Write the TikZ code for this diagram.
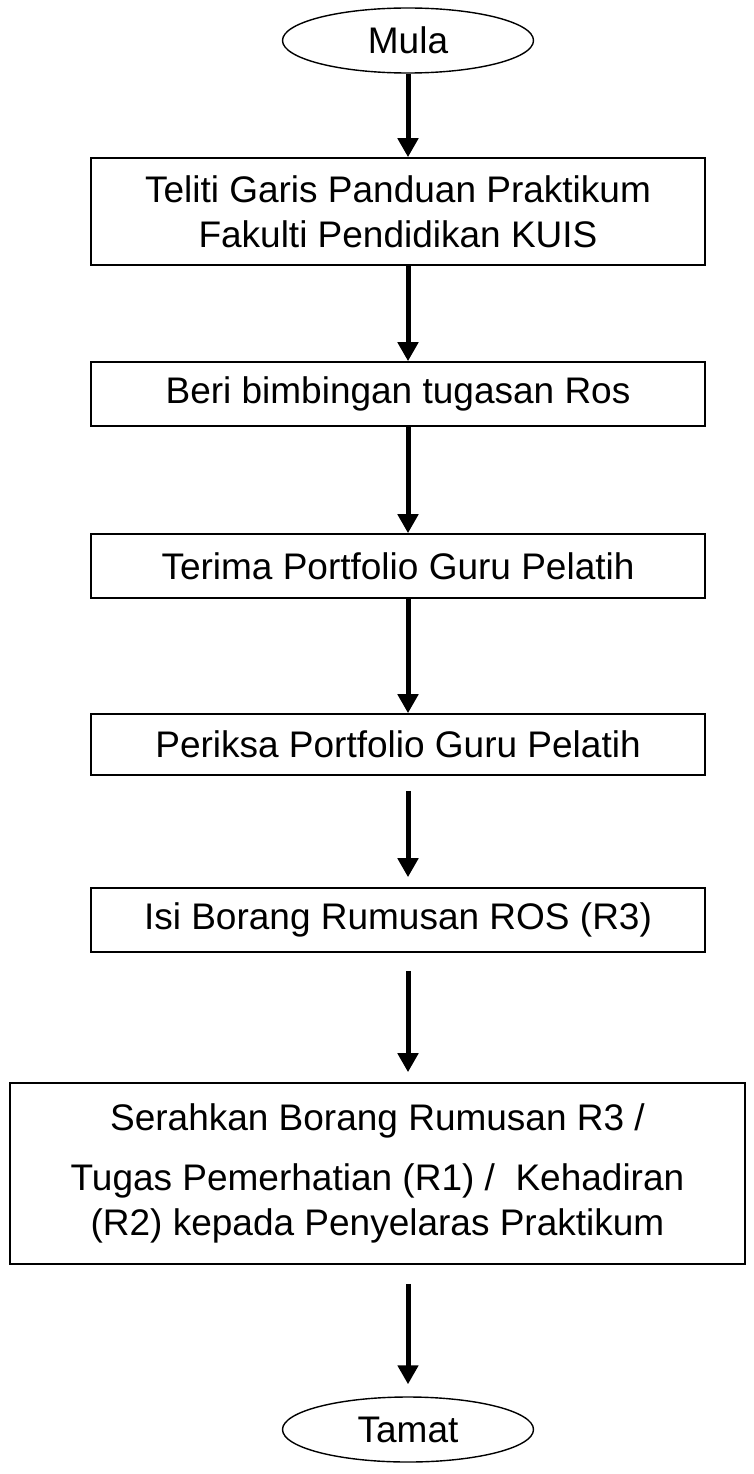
\documentclass[tikz,border=0pt]{standalone}
\usepackage{fontspec}
\setmainfont{Liberation Sans}
\usetikzlibrary{arrows.meta,shapes.geometric}
\begin{document}
\begin{tikzpicture}[x=1pt,y=-1pt,
  box/.style={draw, line width=1.6pt, inner sep=0pt, align=center,
    font=\fontsize{37}{45}\selectfont},
  term/.style={draw, ellipse, line width=1.4pt, inner sep=0pt,
    font=\fontsize{37}{45}\selectfont},
  flow/.style={line width=5pt, -{Triangle[width=20pt,length=19pt]}}]
\useasboundingbox (0,0) rectangle (753,1474);
\coordinate (ax) at (408,0);
\node[term, minimum width=251pt, minimum height=65pt] (m) at (408,40.5) {Mula};
\node[box, minimum width=614pt, minimum height=107pt] (b1) at (398,211.5)
  {Teliti Garis Panduan Praktikum\\Fakulti Pendidikan KUIS};
\node[box, minimum width=614pt, minimum height=64pt] (b2) at (398,394) {Beri bimbingan tugasan Ros};
\node[box, minimum width=614pt, minimum height=64pt] (b3) at (398,566) {Terima Portfolio Guru Pelatih};
\node[box, minimum width=614pt, minimum height=61pt] (b4) at (398,744.5) {Periksa Portfolio Guru Pelatih};
\node[box, minimum width=614pt, minimum height=64pt] (b5) at (398,920) {Isi Borang Rumusan ROS (R3)};
\node[box, minimum width=735pt, minimum height=181pt] (b6) at (377.5,1173.5)
  {Serahkan Borang Rumusan R3 /\\[15pt]Tugas Pemerhatian (R1) /\ \ Kehadiran\\(R2) kepada Penyelaras Praktikum};
\node[term, minimum width=251pt, minimum height=65pt] (t) at (408,1429.5) {Tamat};
\draw[flow] (m.south) -- (b1.north -| ax);
\draw[flow] (b1.south -| ax) -- (b2.north -| ax);
\draw[flow] (b2.south -| ax) -- (b3.north -| ax);
\draw[flow] (b3.south -| ax) -- (b4.north -| ax);
\draw[flow, shorten <=15pt, shorten >=10pt] (b4.south -| ax) -- (b5.north -| ax);
\draw[flow, shorten <=18pt, shorten >=10pt] (b5.south -| ax) -- (b6.north -| ax);
\draw[flow, shorten <=19pt, shorten >=12pt] (b6.south -| ax) -- (t.north);
\end{tikzpicture}
\end{document}
